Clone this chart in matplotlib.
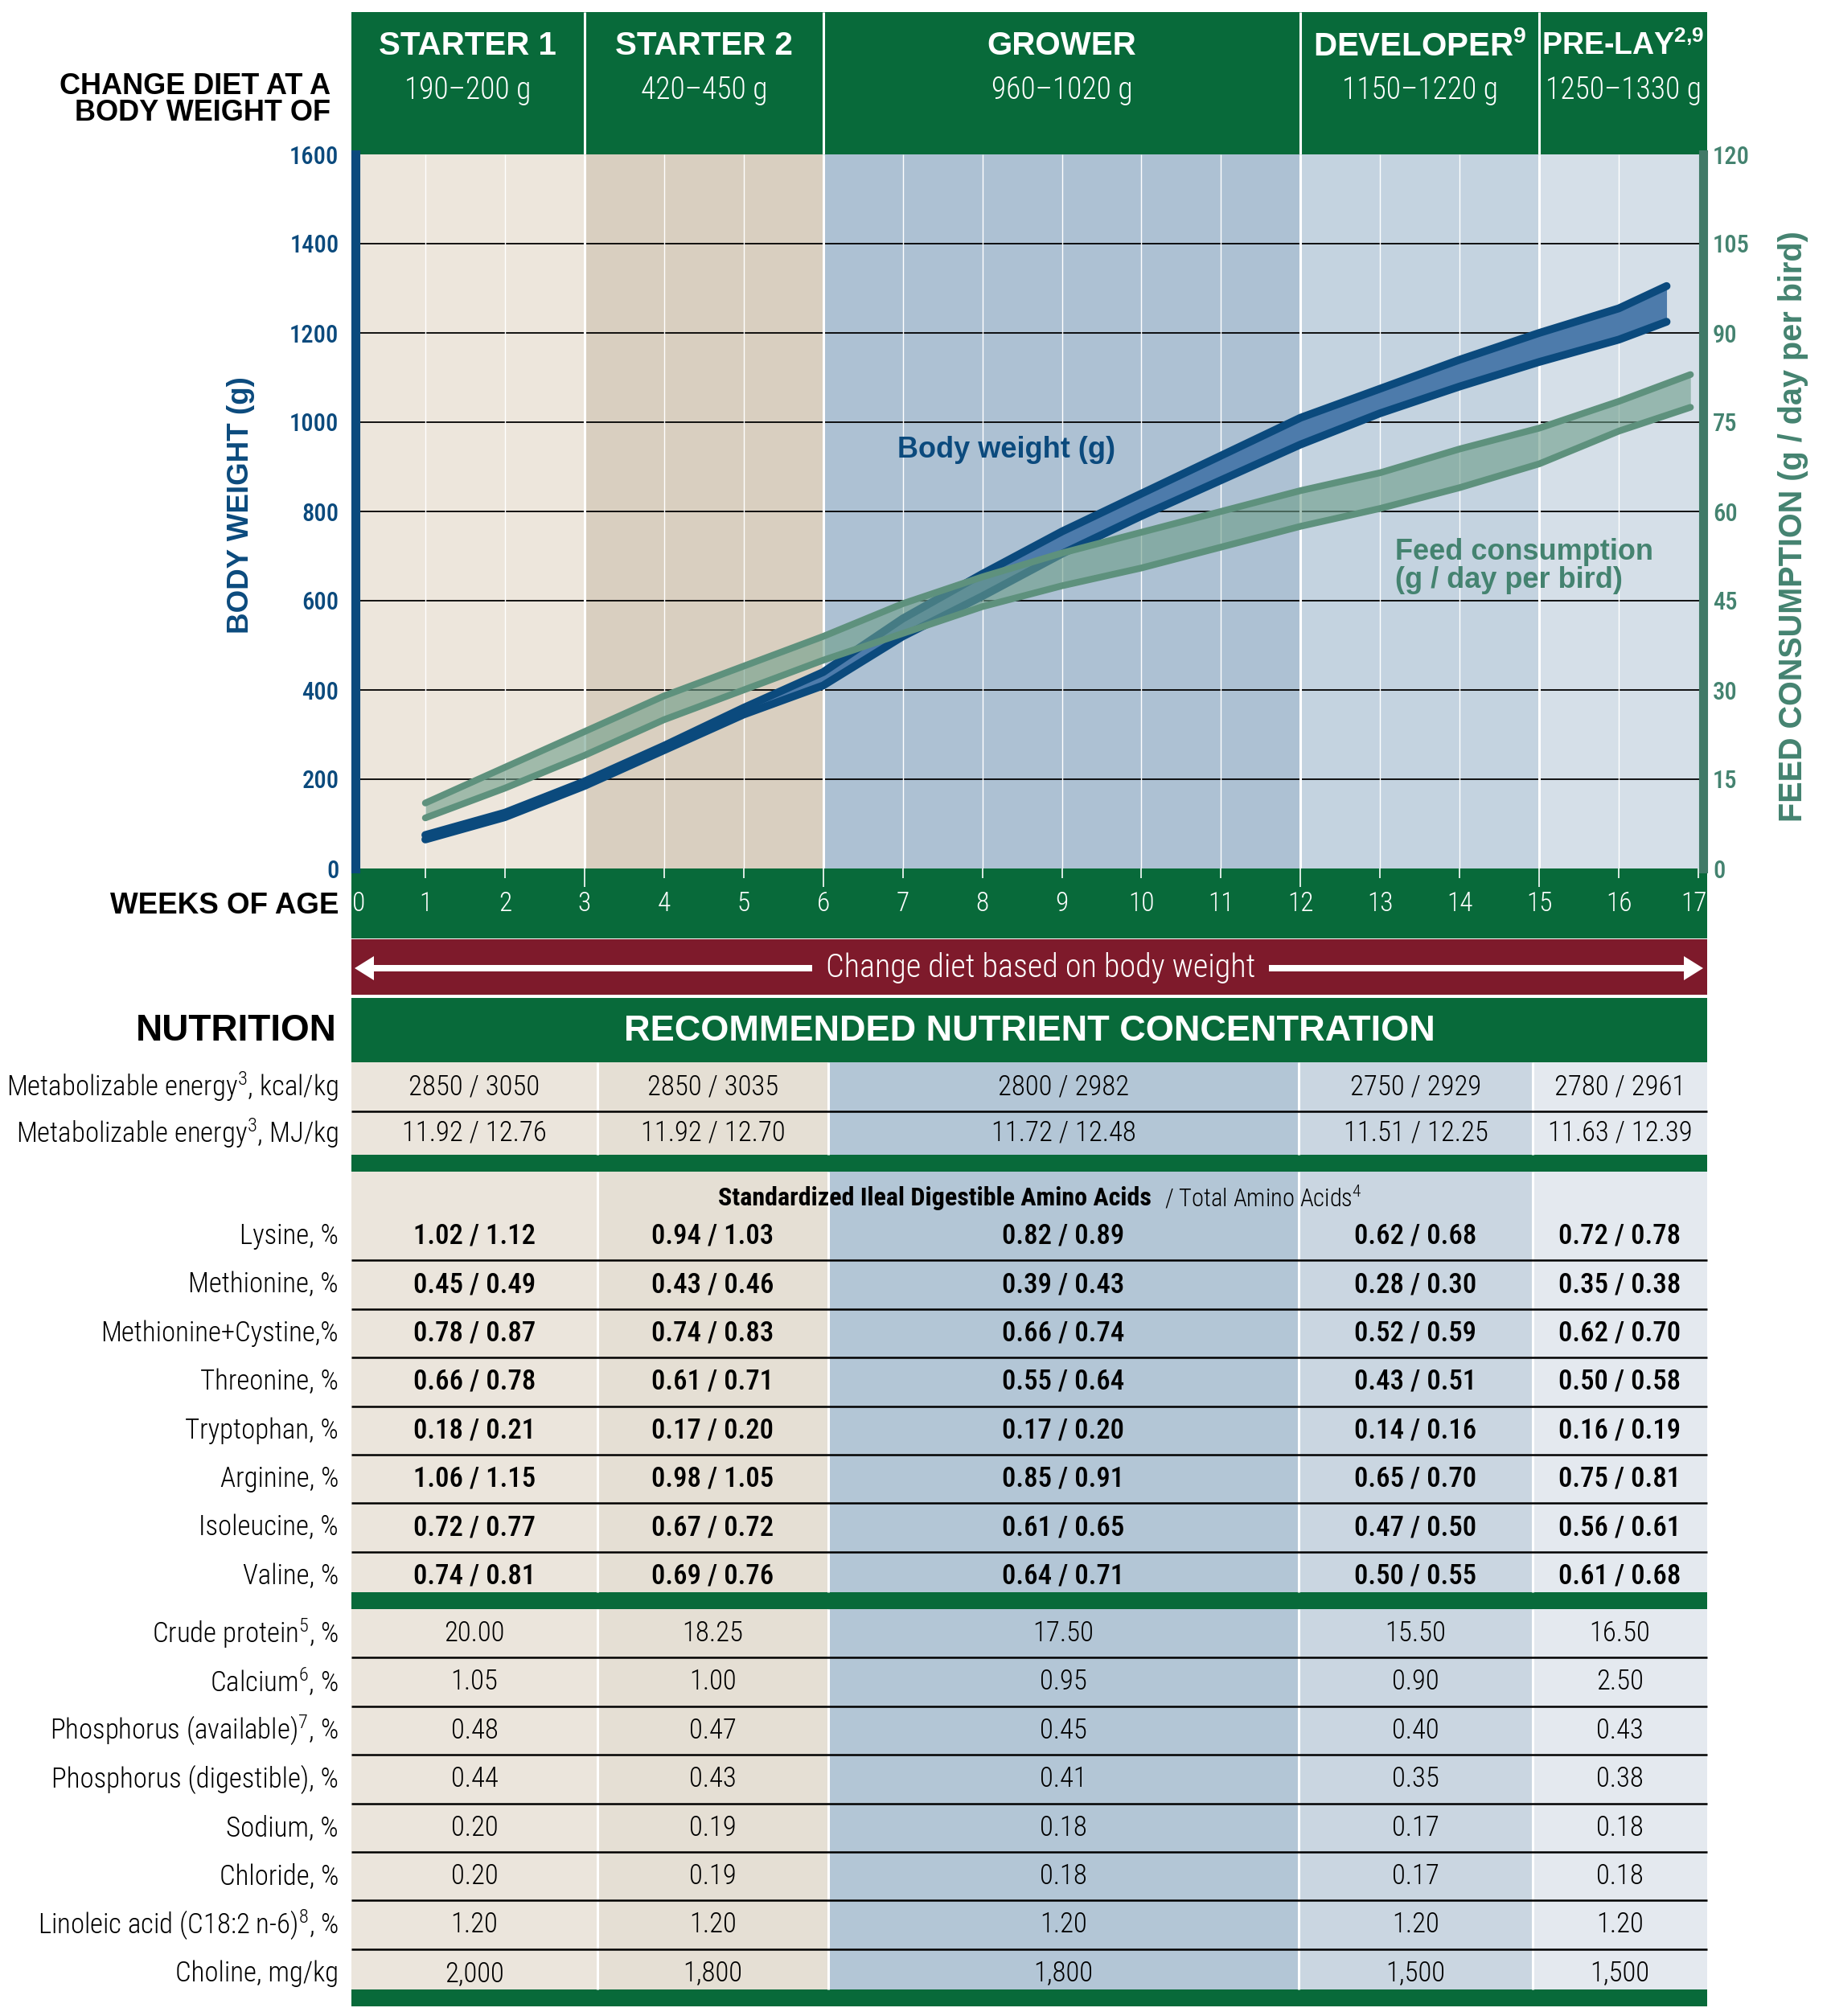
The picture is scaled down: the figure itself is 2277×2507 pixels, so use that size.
import matplotlib.pyplot as plt
from matplotlib.patches import Rectangle, FancyArrow
from matplotlib.transforms import blended_transform_factory, ScaledTranslation

plt.rcParams['font.family'] = ['Roboto Condensed', 'Liberation Sans', 'DejaVu Sans']
plt.rcParams['mathtext.default'] = 'regular'
WIDE = ['Liberation Sans', 'DejaVu Sans']

# Growth chart data
weeks = list(range(0, 18))
phase_edges = [0, 3, 6, 12, 15, 17]
phase_names = ['STARTER 1', 'STARTER 2', 'GROWER', 'DEVELOPER$^{9}$', 'PRE-LAY$^{2{,}9}$']
phase_weights = ['190–200 g', '420–450 g', '960–1020 g', '1150–1220 g', '1250–1330 g']

bw_weeks = [1, 2, 3, 4, 5, 6, 7, 8, 9, 10, 11, 12, 13, 14, 15, 16, 16.6]
bw_low = [65, 115, 185, 265, 345, 410, 520, 610, 705, 790, 870, 950, 1020, 1080, 1135, 1185, 1225]
bw_high = [75, 125, 195, 275, 360, 440, 560, 660, 755, 840, 925, 1010, 1075, 1140, 1200, 1255, 1305]

feed_weeks = [1, 2, 3, 4, 5, 6, 7, 8, 9, 10, 11, 12, 13, 14, 15, 16, 16.9]
feed_low = [8.5, 13.5, 19, 25, 30, 35, 39.5, 44, 47.5, 50.5, 54, 57.5, 60.5, 64, 68, 73.5, 77.5]
feed_high = [11, 17, 23, 29, 34, 39, 44.5, 49, 53, 56.5, 60, 63.5, 66.5, 70.5, 74, 78.5, 83]

bw_ticks = [0, 200, 400, 600, 800, 1000, 1200, 1400, 1600]
feed_ticks = [0, 15, 30, 45, 60, 75, 90, 105, 120]

# Nutrition table data
energy_labels = ['Metabolizable energy$^{3}$, kcal/kg', 'Metabolizable energy$^{3}$, MJ/kg']
energy_values = [
    ['2850 / 3050', '2850 / 3035', '2800 / 2982', '2750 / 2929', '2780 / 2961'],
    ['11.92 / 12.76', '11.92 / 12.70', '11.72 / 12.48', '11.51 / 12.25', '11.63 / 12.39'],
]
amino_labels = ['Lysine, %', 'Methionine, %', 'Methionine+Cystine,%', 'Threonine, %',
                'Tryptophan, %', 'Arginine, %', 'Isoleucine, %', 'Valine, %']
amino_values = [
    ['1.02 / 1.12', '0.94 / 1.03', '0.82 / 0.89', '0.62 / 0.68', '0.72 / 0.78'],
    ['0.45 / 0.49', '0.43 / 0.46', '0.39 / 0.43', '0.28 / 0.30', '0.35 / 0.38'],
    ['0.78 / 0.87', '0.74 / 0.83', '0.66 / 0.74', '0.52 / 0.59', '0.62 / 0.70'],
    ['0.66 / 0.78', '0.61 / 0.71', '0.55 / 0.64', '0.43 / 0.51', '0.50 / 0.58'],
    ['0.18 / 0.21', '0.17 / 0.20', '0.17 / 0.20', '0.14 / 0.16', '0.16 / 0.19'],
    ['1.06 / 1.15', '0.98 / 1.05', '0.85 / 0.91', '0.65 / 0.70', '0.75 / 0.81'],
    ['0.72 / 0.77', '0.67 / 0.72', '0.61 / 0.65', '0.47 / 0.50', '0.56 / 0.61'],
    ['0.74 / 0.81', '0.69 / 0.76', '0.64 / 0.71', '0.50 / 0.55', '0.61 / 0.68'],
]
mineral_labels = ['Crude protein$^{5}$, %', 'Calcium$^{6}$, %', 'Phosphorus (available)$^{7}$, %',
                  'Phosphorus (digestible), %', 'Sodium, %', 'Chloride, %',
                  'Linoleic acid (C18:2 n-6)$^{8}$, %', 'Choline, mg/kg']
mineral_values = [
    ['20.00', '18.25', '17.50', '15.50', '16.50'],
    ['1.05', '1.00', '0.95', '0.90', '2.50'],
    ['0.48', '0.47', '0.45', '0.40', '0.43'],
    ['0.44', '0.43', '0.41', '0.35', '0.38'],
    ['0.20', '0.19', '0.18', '0.17', '0.18'],
    ['0.20', '0.19', '0.18', '0.17', '0.18'],
    ['1.20', '1.20', '1.20', '1.20', '1.20'],
    ['2,000', '1,800', '1,800', '1,500', '1,500'],
]

# Colours
GREEN = '#086a3a'
BLUE = '#0b4a7d'
BW_FILL = '#4d7bab'
FEED = '#5e917d'
FEED_FILL = '#6d9d89'
FEED_TXT = '#448370'
FEED_BAR = '#407a67'
RED = '#7e1a2b'
plot_bands = ['#ede6dc', '#d9cfc0', '#adc1d3', '#c4d3e0', '#d5dfe8']
table_bands = ['#ebe5dc', '#e5dfd4', '#b3c6d6', '#cad6e1', '#e4e9ef']

# Layout (pixels)
W, H, DPI = 2277, 2507, 100
AX_L, AX_R, AX_T, AX_B = 430, 2123, 192, 1080
XMAX = 17.11
BAR_LEFT = 0.07
HEAD_T = 15
TABLE_X = [437, 743, 1030, 1615, 1906, 2123]
ROW_H = 60.4
LIGHT, MED, BOLD = 300, 500, 700
title_sizes = [29, 29, 29, 29, 27]

fig = plt.figure(figsize=(W / DPI, H / DPI), dpi=DPI)
canvas = fig.add_axes([0, 0, 1, 1], zorder=0)
canvas.set_xlim(0, W)
canvas.set_ylim(H, 0)
canvas.axis('off')

ax = fig.add_axes([AX_L / W, 1 - AX_B / H, (AX_R - AX_L) / W, (AX_B - AX_T) / H], zorder=1)
ax.set_facecolor('none')
ax.set_xlim(0, XMAX)
ax.set_ylim(bw_ticks[0], bw_ticks[-1])
wx = blended_transform_factory(ax.transData, canvas.transData)

# phase backgrounds and header
n = len(phase_names)
for i in range(n):
    x0 = max(phase_edges[i], BAR_LEFT)
    x1 = phase_edges[i + 1] if i < n - 1 else XMAX
    ax.axvspan(x0, x1, color=plot_bands[i], lw=0, zorder=0)
    canvas.add_patch(Rectangle((x0, HEAD_T), x1 - x0, AX_T - HEAD_T, transform=wx,
                               color=GREEN, lw=0))
    xc = (x0 + x1) / 2
    canvas.text(xc, 57, phase_names[i], transform=wx, ha='center', va='center',
                color='white', fontsize=title_sizes[i], fontweight='bold', family=WIDE)
    canvas.text(xc, 112, phase_weights[i], transform=wx, ha='center', va='center',
                color='white', fontsize=27, fontweight=LIGHT)
canvas.vlines(phase_edges[1:-1], HEAD_T, AX_T, transform=wx, color='white', lw=2.2)

# grid
ax.hlines(bw_ticks[1:-1], BAR_LEFT, XMAX, color='black', lw=1.3, zorder=1)
thin = [w for w in weeks[1:-1] if w not in phase_edges]
ax.vlines(thin, 0, 1600, color='white', lw=1.0, zorder=1)
ax.vlines(phase_edges[1:-1], 0, 1600, color='white', lw=2.2, zorder=1)

# body weight band
ax.fill_between(bw_weeks, bw_low, bw_high, color=BW_FILL, lw=0, zorder=3)
ax.plot(bw_weeks, bw_low, color=BLUE, lw=7, solid_capstyle='round', zorder=4)
ax.plot(bw_weeks, bw_high, color=BLUE, lw=7, solid_capstyle='round', zorder=4)
ax.text(6.93, 937, 'Body weight (g)', color=BLUE, fontsize=26, fontweight='bold',
        family=WIDE, va='center', ha='left')

# axes styling
for s in ['top', 'bottom', 'right']:
    ax.spines[s].set_visible(False)
ax.spines['left'].set_position(('data', 0.125))
ax.spines['left'].set_color(BLUE)
ax.spines['left'].set_linewidth(8)
ax.set_yticks(bw_ticks)
ax.tick_params(axis='y', length=0, pad=15, labelsize=22, labelcolor=BLUE)
for lab in ax.get_yticklabels():
    lab.set_fontweight(MED)
ax.set_ylabel('BODY WEIGHT (g)', color=BLUE, fontsize=26.5, fontweight='bold', family=WIDE)
ax.yaxis.set_label_coords(-0.067, 0.509)

major = phase_edges[1:-1]
minor = [w for w in weeks if w not in major]
ax.set_xticks(major)
ax.set_xticklabels([str(w) for w in major])
ax.set_xticks(minor, minor=True)
ax.set_xticklabels([str(w) for w in minor], minor=True)
ax.tick_params(axis='x', which='major', length=16.5, width=1.2, color='white',
               labelcolor='white', labelsize=24, pad=3.5)
ax.tick_params(axis='x', which='minor', length=8.5, width=1.2, color='white',
               labelcolor='white', labelsize=24, pad=11.5)
for lab in ax.get_xticklabels(which='both'):
    lab.set_fontweight(LIGHT)
minor_ticks = ax.xaxis.get_minor_ticks()
first_lab, last_lab = minor_ticks[0].label1, minor_ticks[-1].label1
first_lab.set_transform(first_lab.get_transform() + ScaledTranslation(0.16, 0, fig.dpi_scale_trans))
last_lab.set_transform(last_lab.get_transform() + ScaledTranslation(-0.06, 0, fig.dpi_scale_trans))

# feed consumption on the right axis
ax2 = ax.twinx()
ax2.set_zorder(2)
ax2.set_ylim(feed_ticks[0], feed_ticks[-1])
ax2.fill_between(feed_weeks, feed_low, feed_high, color=FEED_FILL, alpha=0.6, lw=0)
ax2.plot(feed_weeks, feed_low, color=FEED, lw=6, solid_capstyle='round')
ax2.plot(feed_weeks, feed_high, color=FEED, lw=6, solid_capstyle='round')
ax2.text(13.19, 50.8, 'Feed consumption\n(g / day per bird)', color=FEED_TXT, fontsize=26,
         fontweight='bold', family=WIDE, va='center', ha='left', linespacing=1.0)
for s in ['top', 'bottom', 'left']:
    ax2.spines[s].set_visible(False)
ax2.spines['right'].set_position(('data', 17.055))
ax2.spines['right'].set_color(FEED_BAR)
ax2.spines['right'].set_linewidth(8)
ax2.set_yticks(feed_ticks)
ax2.tick_params(axis='y', length=0, pad=9, labelsize=22, labelcolor=FEED_TXT)
for lab in ax2.get_yticklabels():
    lab.set_fontweight(MED)
ax2.set_ylabel('FEED CONSUMPTION (g / day per bird)', color=FEED_TXT, fontsize=28.5,
               fontweight='bold', family=WIDE)
ax2.yaxis.set_label_coords(1.052, 0.479)

# x axis band, diet band, section header
canvas.add_patch(Rectangle((BAR_LEFT, AX_B), XMAX - BAR_LEFT, 1167 - AX_B, transform=wx,
                           color=GREEN, lw=0))
canvas.add_patch(Rectangle((BAR_LEFT, 1168), XMAX - BAR_LEFT, 69, transform=wx,
                           color=RED, lw=0))
canvas.add_patch(Rectangle((BAR_LEFT, 1241), XMAX - BAR_LEFT, 80, transform=wx,
                           color=GREEN, lw=0))
canvas.add_patch(FancyArrow(1010, 1204, 441 - 1010, 0, width=8, head_width=30,
                            head_length=24, length_includes_head=True, color='white', lw=0))
canvas.add_patch(FancyArrow(1578, 1204, 2118 - 1578, 0, width=8, head_width=30,
                            head_length=24, length_includes_head=True, color='white', lw=0))
canvas.text(1294, 1203, 'Change diet based on body weight', color='white', fontsize=29,
            fontweight=LIGHT, ha='center', va='center')
canvas.text(1280, 1282, 'RECOMMENDED NUTRIENT CONCENTRATION', color='white', fontsize=32.5,
            fontweight='bold', family=WIDE, ha='center', va='center')

canvas.text(411, 124, 'CHANGE DIET AT A\nBODY WEIGHT OF', ha='right', va='center',
            fontsize=26, fontweight='bold', family=WIDE, linespacing=0.95)
canvas.text(421, 1126, 'WEEKS OF AGE', ha='right', va='center', fontsize=26.5,
            fontweight='bold', family=WIDE)
canvas.text(419, 1282, 'NUTRITION', ha='right', va='center', fontsize=33,
            fontweight='bold', family=WIDE)


# nutrient table
def table_section(top, bottom, row_tops, labels, values, weight):
    for j in range(5):
        canvas.add_patch(Rectangle((TABLE_X[j], top), TABLE_X[j + 1] - TABLE_X[j],
                                   bottom - top, color=table_bands[j], lw=0))
    canvas.vlines(TABLE_X[1:-1], top, bottom, color='white', lw=2.2)
    for r, (lab, vals) in enumerate(zip(labels, values)):
        rt = row_tops[r]
        rb = row_tops[r + 1] if r + 1 < len(row_tops) else rt + ROW_H
        yc = (rt + rb) / 2
        canvas.text(421, yc, lab, ha='right', va='center', fontsize=25, fontweight=LIGHT)
        for j, v in enumerate(vals):
            canvas.text((TABLE_X[j] + TABLE_X[j + 1]) / 2, yc, v, ha='center',
                        va='center', fontsize=25, fontweight=weight)
        if r > 0:
            canvas.hlines(rt, TABLE_X[0], TABLE_X[-1], color='black', lw=1.8)


table_section(1321, 1436, [1321, 1382, 1436], energy_labels, energy_values, LIGHT)
canvas.add_patch(Rectangle((TABLE_X[0], 1436), TABLE_X[-1] - TABLE_X[0], 21, color=GREEN, lw=0))

amino_tops = [1507 + i * ROW_H for i in range(len(amino_labels))]
table_section(1457, 1980, amino_tops, amino_labels, amino_values, MED)
canvas.text(1432, 1490, 'Standardized Ileal Digestible Amino Acids', ha='right', va='center',
            fontsize=23, fontweight=BOLD)
canvas.text(1448, 1490, '/ Total Amino Acids$^{4}$', ha='left', va='center', fontsize=22,
            fontweight=LIGHT)
canvas.add_patch(Rectangle((TABLE_X[0], 1980), TABLE_X[-1] - TABLE_X[0], 21, color=GREEN, lw=0))

mineral_tops = [2001 + i * ROW_H for i in range(len(mineral_labels))]
table_section(2001, 2474, mineral_tops, mineral_labels, mineral_values, LIGHT)
canvas.add_patch(Rectangle((TABLE_X[0], 2474), TABLE_X[-1] - TABLE_X[0], 21, color=GREEN, lw=0))

fig.savefig('out.png', dpi=DPI)
